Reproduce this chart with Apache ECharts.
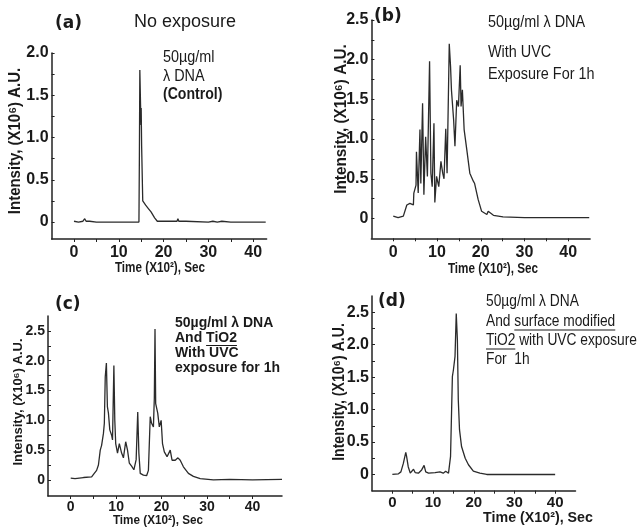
<!DOCTYPE html>
<html>
<head>
<meta charset="UTF-8">
<title>Capillary electrophoresis of lambda DNA</title>
<script src="https://cdn.jsdelivr.net/npm/echarts@6.0.0/dist/echarts.min.js"></script>
<style>
  html, body { margin: 0; padding: 0; background: #fff; }
  #chart { width: 640px; height: 529px; }
</style>
</head>
<body>
<div id="chart"></div>
<script>
// time in units of 10^2 s, intensity in units of 10^6 A.U.
var timeA = [0, 1, 2, 2.4, 2.7, 3.5, 5, 7.5, 7.7, 7.9, 10, 14.5, 14.6, 14.7, 14.85, 14.95, 15.0, 15.1, 15.25, 15.35, 15.5, 16, 16.6, 17.2, 18, 18.6, 20, 23, 23.2, 23.4, 25, 30, 31, 32, 33, 35, 37.5, 40, 42.8];
var intA  = [0.01, 0.0, 0.01, 0.04, 0.01, 0.01, 0.0, 0.0, 0.02, 0.0, 0.0, 0.0, 0.78, 1.8, 1.78, 1.15, 1.35, 0.9, 0.88, 0.25, 0.23, 0.2, 0.16, 0.12, 0.05, 0.01, 0.01, 0.01, 0.04, 0.01, 0.01, 0.0, 0.01, 0.0, 0.01, 0.0, 0.0, 0.0, 0.0];

var timeB = [0, 1.1, 2.3, 3.1, 3.8, 4.6, 4.7, 5.2, 5.3, 5.7, 6.1, 6.3, 6.7, 7.0, 7.4, 7.8, 8.3, 8.6, 8.9, 9.3, 9.5, 9.9, 10.4, 10.9, 11.3, 11.6, 12.0, 12.3, 12.6, 12.8, 13.1, 13.3, 13.8, 14.1, 14.5, 14.9, 15.3, 15.5, 15.8, 16.2, 16.8, 17.5, 18.3, 18.6, 19.4, 20.2, 21.4, 21.7, 22.9, 25.1, 30, 35, 40, 44.8];
var intB  = [0.03, 0.01, 0.03, 0.17, 0.19, 0.17, 0.32, 0.42, 0.84, 0.32, 1.12, 0.44, 1.45, 0.30, 1.03, 0.53, 1.98, 0.57, 0.40, 1.2, 0.20, 0.53, 0.40, 0.72, 0.57, 0.5, 1.13, 0.57, 1.54, 2.2, 1.91, 1.62, 1.24, 0.91, 1.49, 1.41, 1.93, 1.41, 1.62, 1.12, 0.87, 0.57, 0.47, 0.44, 0.24, 0.09, 0.05, 0.09, 0.04, 0.02, 0.01, 0.01, 0.01, 0.01];

var timeC = [0, 0.95, 2.8, 4.6, 5.1, 5.7, 6.1, 6.5, 6.8, 7.2, 7.4, 7.6, 7.85, 8.07, 8.3, 8.6, 9.0, 9.2, 9.5, 9.7, 9.9, 10.3, 10.7, 11.2, 11.6, 12.1, 12.5, 12.9, 13.4, 13.9, 14.4, 14.75, 15.0, 15.3, 16.0, 16.7, 17.1, 17.5, 17.8, 18.2, 18.4, 18.55, 18.7, 19.15, 19.5, 19.9, 20.2, 20.6, 21.2, 21.9, 22.3, 23.0, 23.6, 24.1, 24.8, 25.9, 27.0, 28.5, 31.4, 35, 40, 46.5];
var intC  = [0.03, 0.02, 0.04, 0.05, 0.1, 0.16, 0.25, 0.5, 0.58, 0.78, 0.95, 1.73, 1.96, 1.23, 1.12, 0.84, 0.75, 0.67, 1.92, 1.0, 0.61, 0.45, 0.61, 0.45, 0.37, 0.64, 0.5, 0.28, 0.23, 0.17, 0.34, 1.14, 0.45, 0.11, 0.08, 0.07, 0.16, 1.06, 0.95, 0.89, 1.37, 2.53, 1.28, 1.12, 0.89, 1.0, 0.61, 0.47, 0.39, 0.5, 0.33, 0.33, 0.37, 0.33, 0.22, 0.11, 0.06, 0.02, 0.0, 0.01, 0.0, 0.01];

var timeD = [0, 1.5, 2.1, 2.7, 3.3, 3.5, 3.9, 4.4, 4.8, 5.2, 5.6, 6.4, 7.2, 7.8, 8.2, 8.9, 10.5, 11.7, 12.5, 13.1, 13.8, 14.3, 14.75, 15.0, 15.4, 15.7, 15.98, 16.2, 16.5, 17.0, 17.9, 18.7, 19.9, 21.5, 23.2, 30, 40];
var intD  = [0.0, 0.01, 0.04, 0.17, 0.34, 0.28, 0.12, 0.02, 0.04, 0.08, 0.03, 0.02, 0.07, 0.14, 0.04, 0.02, 0.03, 0.04, 0.02, 0.05, 0.02, 0.28, 1.51, 1.61, 1.82, 2.48, 2.07, 1.15, 0.69, 0.43, 0.25, 0.15, 0.05, 0.02, 0.0, 0.0, 0.0];

var xLabelVals = [0, 10, 20, 30, 40];
var xTickVals = [0, 5, 10, 15, 20, 25, 30, 35, 40];
var yLabelsA = [0, 0.5, 1.0, 1.5, 2.0];
var yLabels = [0, 0.5, 1.0, 1.5, 2.0, 2.5];
var yTicksA = [0, 0.25, 0.5, 0.75, 1.0, 1.25, 1.5, 1.75, 2.0];
var yTicks = [0, 0.25, 0.5, 0.75, 1.0, 1.25, 1.5, 1.75, 2.0, 2.25, 2.5];

var ARIAL = "'Liberation Sans', Arial, sans-serif";
var TAG = "'DejaVu Sans', Verdana, sans-serif";
var INK = '#1a1a1a';

function pairs(t, v) {
  return t.map(function (x, i) { return [x, v[i]]; });
}

function xAx(idx, min, max, size, margin) {
  return {
    type: 'value', gridIndex: idx, min: min, max: max,
    axisLine: { onZero: false, lineStyle: { color: '#222', width: 1.5 } },
    axisTick: { customValues: xTickVals, length: 3, lineStyle: { color: '#222' } },
    axisLabel: { customValues: xLabelVals, fontFamily: ARIAL, fontWeight: 'bold', fontSize: size, color: INK, margin: margin },
    splitLine: { show: false }
  };
}

function yAx(idx, min, max, labels, ticks, size) {
  return {
    type: 'value', gridIndex: idx, min: min, max: max,
    axisLine: { onZero: false, lineStyle: { color: '#222', width: 1.5 } },
    axisTick: { customValues: ticks, inside: true, length: 3, lineStyle: { color: '#222' } },
    axisLabel: {
      customValues: labels, fontFamily: ARIAL, fontWeight: 'bold', fontSize: size, color: INK, margin: 3,
      formatter: function (v) { return v === 0 ? '0' : v.toFixed(1); }
    },
    splitLine: { show: false }
  };
}

function line(idx, t, v) {
  return {
    type: 'line', xAxisIndex: idx, yAxisIndex: idx, data: pairs(t, v),
    showSymbol: false, silent: true, animation: false,
    lineStyle: { color: '#2b2b2b', width: 1.3 }
  };
}

// sx squeezes the text horizontally to imitate the narrow face of the original
function txt(s, x, y, font, align, rot, sx) {
  return {
    type: 'text', x: x, y: y, rotation: rot || 0, scaleX: sx || 1, silent: true,
    style: { text: s, font: font, fill: INK, textAlign: align || 'left', textVerticalAlign: 'middle' }
  };
}

// underline a part of a text line, measured with the same font
var measureCtx = document.createElement('canvas').getContext('2d');
function under(prefix, word, font, x, y, sx) {
  sx = sx || 1;
  measureCtx.font = font;
  var x1 = x + measureCtx.measureText(prefix).width * sx;
  var x2 = x1 + measureCtx.measureText(word).width * sx;
  return { type: 'line', silent: true, shape: { x1: x1, y1: y, x2: x2, y2: y }, style: { stroke: INK, lineWidth: 1 } };
}

var fAB = '16px ' + ARIAL, sAB = 0.9;
var fC = 'bold 14px ' + ARIAL;
var fD = '16px ' + ARIAL, sD = 0.86;
var fYT = 'bold 17px ' + ARIAL;

var chart = echarts.init(document.getElementById('chart'), null, { renderer: 'canvas' });
chart.setOption({
  backgroundColor: '#fff',
  animation: false,
  grid: [
    { left: 51.6, top: 53, width: 215, height: 186 },
    { left: 371.4, top: 20, width: 218.7, height: 218.3 },
    { left: 48, top: 316, width: 234, height: 180 },
    { left: 372, top: 296, width: 203.5, height: 194.7 }
  ],
  xAxis: [
    xAx(0, -5, 43, 16, 6),
    xAx(1, -5, 45, 16, 6),
    xAx(2, -5, 46.5, 14, 4),
    xAx(3, -5, 45, 15, 5)
  ],
  yAxis: [
    yAx(0, -0.2, 2.0, yLabelsA, yTicksA, 16),
    yAx(1, -0.25, 2.5, yLabels, yTicks, 16),
    yAx(2, -0.27, 2.75, yLabels, yTicks, 14),
    yAx(3, -0.25, 2.75, yLabels, yTicks, 16)
  ],
  series: [
    line(0, timeA, intA),
    line(1, timeB, intB),
    line(2, timeC, intC),
    line(3, timeD, intD)
  ],
  graphic: [
    // panel (a)
    txt('(a)', 55, 24, 'bold 17px ' + TAG),
    txt('No exposure', 185, 22, '18px ' + ARIAL, 'center'),
    txt('50µg/ml', 163, 58, fAB, 'left', 0, sAB),
    txt('λ DNA', 163, 77, fAB, 'left', 0, sAB),
    txt('(Control)', 163, 95, 'bold 16px ' + ARIAL, 'left', 0, 0.88),
    txt('Intensity, (X10⁶) A.U.', 15, 141, fYT, 'center', Math.PI / 2, 0.88),
    txt('Time (X10²), Sec', 160, 268, 'bold 15px ' + ARIAL, 'center', 0, 0.78),
    // panel (b)
    txt('(b)', 374, 17, 'bold 17px ' + TAG),
    txt('50µg/ml λ DNA', 488, 23, fAB, 'left', 0, sAB),
    txt('With UVC', 488, 53, fAB, 'left', 0, sAB),
    txt('Exposure For 1h', 488, 75, fAB, 'left', 0, sAB),
    txt('Intensity, (X10⁶) A.U.', 341, 119, fYT, 'center', Math.PI / 2, 0.9),
    txt('Time (X10²), Sec', 493, 269, 'bold 15px ' + ARIAL, 'center', 0, 0.78),
    // panel (c)
    txt('(c)', 55, 305, 'bold 17px ' + TAG),
    txt('50µg/ml λ DNA', 175, 323, fC),
    txt('And TiO2', 175, 338, fC),
    under('And ', 'TiO2', fC, 175, 345.5),
    txt('With UVC', 175, 353, fC),
    txt('exposure for 1h', 175, 368, fC),
    txt('Intensity, (X10⁶) A.U.', 18, 402, 'bold 13px ' + ARIAL, 'center', Math.PI / 2),
    txt('Time (X10²), Sec', 158, 520, 'bold 13px ' + ARIAL, 'center', 0, 0.9),
    // panel (d)
    txt('(d)', 378, 302, 'bold 17px ' + TAG),
    txt('50µg/ml λ DNA', 486, 302, fD, 'left', 0, sD),
    txt('And surface modified', 486, 322, fD, 'left', 0, sD),
    under('And ', 'surface modified', fD, 486, 330, sD),
    txt('TiO2 with UVC exposure', 486, 341, fD, 'left', 0, sD),
    under('', 'TiO2', fD, 486, 349, sD),
    txt('For  1h', 486, 360, fD, 'left', 0, sD),
    txt('Intensity, (X10⁶) A.U.', 340, 392, 'bold 16px ' + ARIAL, 'center', Math.PI / 2, 0.88),
    txt('Time (X10²), Sec', 538, 518, 'bold 15px ' + ARIAL, 'center', 0, 0.95)
  ]
});
</script>
</body>
</html>
